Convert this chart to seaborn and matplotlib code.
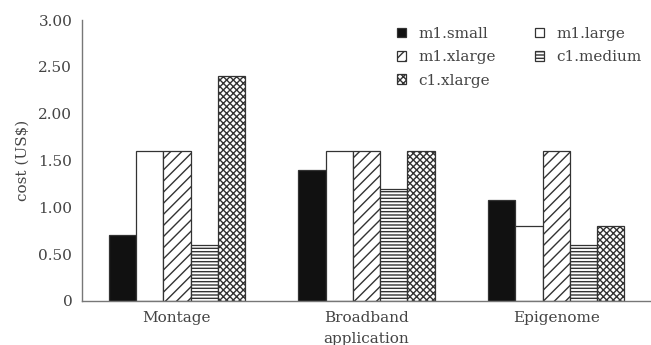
import matplotlib
matplotlib.use("Agg")
import matplotlib.pyplot as plt
import seaborn as sns
import pandas as pd

applications = ["Montage", "Broadband", "Epigenome"]
instances = ["m1.small", "m1.large", "m1.xlarge", "c1.medium", "c1.xlarge"]
m1_small = [0.70, 1.40, 1.08]
m1_large = [1.60, 1.60, 0.80]
m1_xlarge = [1.60, 1.60, 1.60]
c1_medium = [0.60, 1.20, 0.60]
c1_xlarge = [2.40, 1.60, 0.80]
yticks = [0, 0.5, 1.0, 1.5, 2.0, 2.5, 3.0]
ytick_labels = ["0", "0.50", "1.00", "1.50", "2.00", "2.50", "3.00"]

series = [m1_small, m1_large, m1_xlarge, c1_medium, c1_xlarge]
rows = []
for inst, vals in zip(instances, series):
    for app, v in zip(applications, vals):
        rows.append({"application": app, "instance": inst, "cost": v})
df = pd.DataFrame(rows)

sns.set_style("white")
plt.rcParams["font.family"] = ["DejaVu Serif", "Liberation Serif"]
plt.rcParams["hatch.linewidth"] = 1.0

FS = 11
TC = "#444444"

fig = plt.figure(figsize=(6.51, 3.45), dpi=100)
ax = fig.add_axes([0.126, 0.128, 0.874, 0.814])

sns.barplot(data=df, x="application", y="cost", hue="instance",
            order=applications, hue_order=instances, width=0.72,
            palette=["white"] * 5, edgecolor="#333333", linewidth=0.9,
            errorbar=None, legend=False, ax=ax, saturation=1)

styles = [
    dict(facecolor="#111111", hatch=None),
    dict(facecolor="white", hatch=None),
    dict(facecolor="white", hatch="///"),
    dict(facecolor="white", hatch="-----"),
    dict(facecolor="white", hatch="xxxxx"),
]
for cont, st in zip(ax.containers, styles):
    for bar in cont:
        bar.set_facecolor(st["facecolor"])
        if st["hatch"]:
            bar.set_hatch(st["hatch"])

ax.set_xlim(-0.5, 2.5)
ax.set_ylim(0, 3.0)
ax.set_yticks(yticks)
ax.set_yticklabels(ytick_labels, fontsize=FS, color=TC)
ax.set_xticks([0, 1, 2])
ax.set_xticklabels(applications, fontsize=FS, color=TC)
ax.set_xticks([0.5, 1.5], minor=True)
ax.tick_params(axis="x", which="major", length=0, pad=7)
ax.tick_params(axis="x", which="minor", length=3, direction="out", color="#777777")
ax.tick_params(axis="y", length=5, direction="out", color="#777777", pad=2)
ax.set_ylabel("cost (US$)", fontsize=FS, color=TC, labelpad=6)
ax.set_xlabel("application", fontsize=FS, color=TC, labelpad=5)

sns.despine(ax=ax, top=True, right=True)
for s in ["left", "bottom"]:
    ax.spines[s].set_color("#777777")
    ax.spines[s].set_linewidth(1.0)

conts = list(ax.containers)
order = [0, 2, 4, 1, 3]
handles = [conts[i].patches[0] for i in order]
labels = [instances[i] for i in order]
leg = ax.legend(handles, labels, ncol=2, loc="upper right",
                bbox_to_anchor=(1.008, 1.025), frameon=False, fontsize=FS,
                handlelength=0.6, handleheight=0.6, columnspacing=2.6,
                handletextpad=0.8, labelspacing=0.62)
for t in leg.get_texts():
    t.set_color(TC)

fig.savefig("out.png", dpi=100)
